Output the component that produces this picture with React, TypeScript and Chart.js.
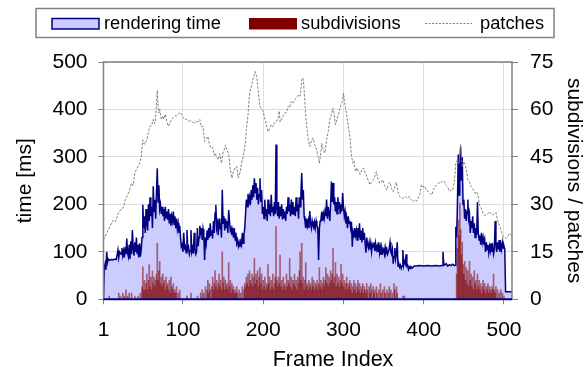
import React, { useEffect, useRef } from "react";
import { Chart, registerables } from "chart.js";

Chart.register(...registerables);

// rendering time [ms] per frame: [frame, ms]
const renderingTime: [number, number][] = [
  [1, 0], [2, 68], [3, 75], [4, 62], [5, 100], [6, 78], [7, 85], [9, 82], [11, 84], [13, 83], [15, 85], [17, 84],
  [19, 104], [20, 88], [21, 100], [23, 95], [24, 108], [25, 92], [26, 102], [27, 88], [28, 110], [29, 95], [30, 128],
  [31, 98], [32, 90], [33, 115], [34, 85], [35, 122], [36, 95], [37, 146], [38, 108], [39, 92], [40, 120], [41, 100],
  [42, 130], [43, 95], [44, 115], [45, 88], [46, 118], [47, 90], [48, 105], [49, 130], [50, 199], [51, 150], [52, 175],
  [53, 140], [54, 190], [55, 160], [56, 145], [57, 200], [58, 165], [59, 215], [60, 175], [61, 195], [62, 150], [63, 238],
  [64, 185], [65, 210], [66, 170], [67, 225], [68, 276], [69, 205], [70, 240], [71, 190], [72, 200], [73, 180], [74, 195],
  [75, 175], [76, 190], [77, 165], [78, 195], [79, 172], [80, 185], [81, 168], [82, 190], [83, 160], [84, 180], [85, 155],
  [86, 175], [87, 165], [88, 185], [89, 158], [90, 175], [91, 150], [92, 170], [93, 148], [94, 160], [95, 140], [96, 155],
  [97, 130], [98, 111], [99, 115], [100, 100], [101, 140], [102, 108], [103, 112], [104, 98], [105, 146], [106, 105],
  [107, 110], [108, 95], [109, 102], [110, 146], [111, 100], [112, 108], [113, 96], [114, 140], [115, 105], [116, 95],
  [117, 100], [118, 150], [119, 112], [120, 130], [121, 155], [122, 135], [123, 150], [124, 125], [125, 148], [126, 135],
  [127, 83], [128, 130], [129, 118], [130, 145], [131, 125], [132, 150], [133, 130], [134, 160], [135, 135], [136, 145],
  [137, 128], [138, 165], [139, 140], [140, 182], [141, 199], [142, 150], [143, 160], [144, 135], [145, 170], [146, 148],
  [147, 160], [148, 130], [149, 231], [150, 160], [151, 175], [152, 145], [153, 170], [154, 150], [155, 165], [156, 140],
  [157, 188], [158, 165], [159, 145], [160, 150], [161, 135], [162, 145], [163, 130], [164, 150], [165, 125], [166, 140],
  [167, 118], [168, 125], [169, 112], [170, 120], [171, 110], [172, 122], [173, 115], [174, 140], [175, 118], [176, 135],
  [177, 150], [178, 180], [179, 210], [180, 195], [181, 222], [182, 205], [183, 215], [184, 198], [185, 230], [186, 210],
  [187, 240], [188, 215], [189, 255], [190, 225], [191, 245], [192, 210], [193, 235], [194, 200], [195, 220], [196, 255],
  [197, 205], [198, 230], [199, 180], [200, 195], [201, 170], [202, 210], [203, 175], [204, 190], [205, 165], [206, 210],
  [207, 180], [208, 200], [209, 175], [210, 220], [211, 185], [212, 195], [213, 175], [214, 205], [215, 180], [216, 326],
  [217, 190], [218, 175], [219, 205], [220, 170], [221, 195], [222, 175], [223, 200], [224, 168], [225, 190], [226, 172],
  [227, 185], [228, 165], [229, 195], [230, 180], [231, 215], [232, 185], [233, 200], [234, 175], [235, 210], [236, 180],
  [237, 205], [238, 178], [239, 195], [240, 175], [241, 215], [242, 185], [243, 200], [244, 170], [245, 215], [246, 195],
  [247, 225], [248, 266], [249, 210], [250, 230], [251, 175], [252, 165], [253, 150], [254, 170], [255, 155], [256, 165],
  [257, 150], [258, 186], [259, 160], [260, 150], [261, 165], [262, 155], [263, 150], [264, 162], [265, 150], [266, 165],
  [267, 155], [268, 150], [269, 83], [270, 150], [271, 165], [272, 170], [273, 185], [274, 165], [275, 180], [276, 170],
  [277, 185], [278, 175], [279, 210], [280, 170], [281, 195], [282, 180], [283, 165], [284, 200], [285, 248], [286, 205],
  [287, 245], [288, 200], [289, 215], [290, 185], [291, 205], [292, 180], [293, 215], [294, 190], [295, 205], [296, 180],
  [297, 200], [298, 185], [299, 224], [300, 195], [301, 175], [302, 185], [303, 160], [304, 170], [305, 150], [306, 175],
  [307, 160], [308, 165], [309, 150], [310, 163], [311, 111], [312, 140], [313, 130], [314, 150], [315, 135], [316, 145],
  [317, 125], [318, 150], [319, 130], [320, 160], [321, 125], [322, 145], [323, 120], [324, 150], [325, 125], [326, 140],
  [327, 118], [328, 98], [329, 130], [330, 115], [331, 108], [332, 120], [333, 105], [334, 118], [335, 100], [336, 115],
  [337, 110], [338, 120], [339, 102], [340, 118], [341, 105], [342, 112], [343, 100], [344, 120], [345, 98], [346, 110],
  [347, 95], [348, 108], [349, 100], [350, 105], [351, 95], [352, 110], [353, 98], [354, 105], [355, 95], [356, 100],
  [357, 108], [358, 120], [359, 100], [360, 95], [361, 105], [362, 75], [363, 90], [364, 108], [365, 85], [366, 95],
  [367, 120], [368, 70], [369, 75], [370, 68], [371, 72], [372, 65], [373, 70], [374, 104], [375, 72], [376, 80],
  [377, 75], [378, 95], [379, 70], [380, 72], [381, 63], [382, 68], [383, 65], [384, 69], [386, 66], [388, 70],
  [390, 70], [395, 71], [400, 70], [405, 71], [410, 70], [415, 71], [420, 70], [423, 71], [424, 100], [425, 75],
  [426, 72], [428, 75], [430, 70], [432, 73], [434, 71], [436, 74], [438, 71], [439, 72], [440, 153], [441, 130],
  [442, 200], [443, 305], [444, 220], [445, 275], [446, 322], [447, 250], [448, 300], [449, 200], [450, 210], [451, 170],
  [452, 190], [453, 165], [454, 185], [455, 210], [456, 170], [457, 180], [458, 140], [459, 165], [460, 150], [461, 175],
  [462, 140], [463, 160], [464, 130], [465, 150], [466, 135], [467, 205], [468, 140], [469, 125], [470, 135], [471, 115],
  [472, 140], [473, 120], [474, 130], [475, 115], [476, 125], [477, 100], [478, 120], [479, 105], [480, 115], [481, 98],
  [482, 112], [483, 102], [484, 118], [485, 100], [486, 110], [487, 95], [488, 105], [489, 165], [490, 115], [491, 100],
  [492, 120], [493, 105], [494, 125], [495, 100], [496, 115], [497, 105], [498, 120], [499, 108], [500, 112], [501, 105],
  [502, 16], [510, 16],
];

// subdivisions per frame: [frame, count]
const subdivisions: [number, number][] = [
  [8, 1], [20, 2], [22, 1], [25, 2], [27, 1], [29, 3], [31, 1], [33, 2], [36, 2], [40, 1], [44, 1], [47, 2], [49, 4],
  [50, 10.3], [51, 3], [52, 6], [53, 3], [54, 5], [55, 8], [56, 3], [57, 6], [58, 11], [59, 4], [60, 7], [61, 3], [62, 9],
  [63, 5], [64, 7], [65, 4], [66, 6], [67, 8], [68, 17.7], [69, 6], [70, 9], [71, 12], [72, 5], [73, 7], [74, 4], [75, 8],
  [76, 5], [77, 6], [78, 3], [79, 7], [80, 4], [81, 5], [82, 3], [83, 6], [84, 2], [85, 7], [86, 4], [87, 3], [88, 5],
  [89, 2], [90, 3], [91, 2], [92, 4], [94, 2], [96, 3], [105, 1], [110, 2], [118, 1], [122, 2], [124, 3], [126, 2],
  [128, 4], [130, 3], [131, 6], [132, 2], [133, 5], [134, 3], [136, 4], [137, 7], [138, 3], [139, 5], [140, 9], [141, 4],
  [142, 6], [143, 3], [144, 5], [145, 8], [146, 4], [147, 6], [148, 3], [149, 15], [150, 5], [151, 7], [152, 3], [153, 6],
  [154, 4], [155, 5], [156, 3], [157, 11.6], [158, 4], [159, 6], [160, 2], [161, 5], [162, 3], [163, 4], [164, 2],
  [165, 3], [166, 2], [167, 4], [168, 2], [170, 3], [172, 2], [174, 4], [176, 3], [177, 5], [178, 4], [179, 7], [180, 5],
  [181, 8], [182, 4], [183, 9], [184, 6], [185, 5], [186, 8], [187, 4], [188, 7], [189, 12.9], [190, 5], [191, 8],
  [192, 6], [193, 9], [194, 4], [195, 7], [196, 10], [197, 5], [198, 8], [199, 3], [200, 6], [201, 4], [202, 7], [203, 3],
  [204, 5], [205, 4], [206, 11], [207, 5], [208, 7], [209, 3], [210, 6], [211, 4], [212, 8], [213, 3], [214, 5], [215, 7],
  [216, 23], [217, 6], [218, 4], [219, 7], [220, 5], [221, 14], [222, 4], [223, 6], [224, 3], [225, 7], [226, 4],
  [227, 5], [228, 3], [229, 8], [230, 4], [231, 6], [232, 5], [233, 12.9], [234, 4], [235, 7], [236, 3], [237, 6],
  [238, 5], [239, 8], [240, 4], [241, 6], [242, 3], [243, 7], [244, 5], [245, 9], [246, 15], [247, 6], [248, 17.7],
  [249, 5], [250, 7], [251, 3], [252, 6], [253, 11.6], [254, 4], [255, 5], [256, 3], [257, 6], [258, 4], [259, 5],
  [260, 3], [261, 7], [262, 4], [263, 6], [264, 3], [265, 5], [266, 4], [267, 6], [268, 3], [269, 5], [270, 10], [271, 4],
  [272, 6], [273, 3], [274, 5], [275, 7], [276, 4], [277, 6], [278, 10], [279, 5], [280, 8], [281, 4], [282, 7], [283, 5],
  [284, 9], [285, 6], [286, 8], [287, 16], [288, 5], [289, 7], [290, 11.6], [291, 4], [292, 8], [293, 5], [294, 7],
  [295, 4], [296, 6], [297, 11], [298, 5], [299, 8], [300, 4], [301, 6], [302, 3], [303, 5], [304, 7], [305, 3], [306, 5],
  [307, 4], [308, 6], [309, 3], [310, 5], [311, 2], [312, 4], [313, 6], [314, 3], [315, 5], [316, 2], [317, 4], [318, 6],
  [319, 3], [320, 5], [321, 2], [322, 4], [323, 3], [324, 5], [325, 2], [326, 4], [327, 3], [328, 2], [329, 5], [330, 3],
  [332, 4], [333, 2], [334, 5], [335, 3], [337, 4], [338, 2], [339, 3], [341, 4], [342, 2], [344, 3], [346, 5], [347, 2],
  [349, 3], [351, 4], [352, 2], [354, 3], [356, 2], [357, 4], [359, 3], [361, 2], [363, 5], [364, 3], [366, 4], [367, 2],
  [374, 1], [376, 1], [441, 8], [442, 16], [443, 25], [444, 20], [445, 30.4], [446, 22], [447, 14], [448, 18], [449, 11],
  [450, 8], [451, 12], [452, 6], [453, 10], [454, 5], [455, 9], [456, 4], [457, 12], [458, 6], [459, 8], [460, 4],
  [461, 7], [462, 3], [463, 9], [464, 5], [465, 6], [466, 3], [467, 8], [468, 4], [469, 6], [470, 3], [471, 5], [472, 2],
  [473, 4], [474, 6], [475, 3], [476, 5], [477, 2], [478, 4], [479, 3], [480, 5], [481, 2], [482, 4], [483, 3], [484, 2],
  [485, 4], [486, 3], [487, 8], [488, 3], [489, 2], [490, 4], [492, 3], [494, 2], [496, 3], [498, 2], [500, 1],
];

// patches per frame: [frame, count]
const patches: [number, number][] = [
  [1, 18.8], [5, 21], [9, 23], [13, 25], [16, 24.5], [19, 27], [23, 28.6], [26, 29], [28, 31.4], [32, 33.5], [34, 35],
  [36, 36.7], [38, 36], [40, 39.9], [42, 41], [44, 42], [46, 43], [48, 45], [50, 50.4], [52, 49], [55, 50.4], [57, 53],
  [59, 54.7], [61, 55], [63, 56.8], [65, 55.5], [66, 58], [68, 66], [69, 61], [70, 58.9], [71, 60], [73, 56.8], [75, 58],
  [76, 57], [78, 58.5], [80, 56], [82, 54.7], [84, 56], [86, 56.8], [88, 57.5], [90, 58], [92, 57.9], [94, 58.5],
  [96, 59.1], [98, 58.5], [100, 57.5], [102, 56.8], [104, 57], [106, 56.5], [108, 56.3], [110, 56.5], [112, 56],
  [114, 55.5], [115, 55.8], [117, 56.5], [119, 56], [121, 56.8], [122, 55.5], [123, 54.5], [125, 54.7], [127, 49.9],
  [129, 50.5], [131, 51.5], [133, 49], [135, 47.8], [137, 48], [139, 45.5], [140, 46.2], [142, 45], [144, 44.1], [146, 46],
  [148, 43], [150, 46.5], [151, 47], [153, 48.8], [155, 47], [157, 46], [159, 41], [161, 38.3], [163, 40.5], [165, 41.5],
  [167, 42], [169, 38.3], [171, 40], [173, 43], [174, 44], [176, 46.2], [178, 50], [179, 53.6], [181, 58], [183, 65.2],
  [185, 67], [187, 69.4], [189, 71], [190, 72], [191, 71], [192, 70.5], [194, 65.2], [196, 61], [198, 60], [200, 59.4],
  [202, 57], [204, 55.2], [206, 53], [208, 54], [210, 55.2], [212, 54.5], [214, 55.8], [216, 56], [218, 57], [219, 57.8],
  [220, 59.5], [221, 56], [223, 57], [225, 58], [227, 58.9], [229, 59], [231, 61], [233, 60.5], [235, 62.6], [237, 62],
  [239, 63], [241, 63.5], [243, 64], [244, 64.7], [246, 64.2], [247, 66], [248, 69.4], [249, 70], [250, 69.4], [251, 66],
  [252, 62], [253, 57.8], [255, 53], [256, 50.4], [258, 48.3], [260, 50], [262, 51], [264, 49], [266, 47.8], [268, 45.5],
  [270, 43], [272, 47], [273, 49.3], [275, 47], [277, 46.2], [279, 50.5], [281, 53], [283, 56.8], [285, 58.5], [287, 60.5],
  [288, 59], [289, 57], [290, 55.2], [292, 57], [294, 58.5], [295, 59.9], [297, 61.5], [299, 63], [300, 65.2], [301, 63],
  [302, 61.5], [304, 58], [306, 54.7], [308, 51.5], [310, 45.2], [312, 43], [313, 43.8], [315, 40.4], [317, 41.5],
  [319, 40], [321, 39.5], [323, 41], [325, 41.5], [327, 40], [329, 38.8], [331, 37.5], [333, 36.2], [335, 37], [337, 37.8],
  [339, 39], [341, 40.4], [343, 38], [345, 36.7], [347, 37], [349, 37.8], [351, 36], [354, 34.6], [356, 36.5], [358, 37],
  [360, 35], [362, 34], [364, 35.5], [366, 37], [368, 34], [370, 32.5], [372, 32], [374, 31.9], [377, 32.5], [379, 31.9],
  [382, 32.5], [384, 31.5], [387, 30.9], [389, 31.5], [391, 31], [393, 32], [395, 33], [397, 36.2], [399, 35.5],
  [401, 35.8], [403, 34.5], [406, 34.1], [408, 33.5], [410, 33], [412, 34.5], [414, 35.7], [416, 36], [418, 36.5],
  [420, 37.2], [422, 37], [424, 37.5], [426, 37.2], [428, 36], [430, 35.5], [432, 34.1], [434, 34.5], [436, 34.5],
  [438, 37], [440, 43], [442, 44], [444, 43], [445, 46], [446, 48.9], [447, 45], [448, 42], [450, 43.5], [451, 43],
  [453, 41], [455, 37.8], [457, 37], [459, 35.7], [461, 35], [464, 33.5], [466, 34], [468, 32.5], [470, 29.3], [472, 28.5],
  [474, 27.2], [476, 26.5], [478, 26.8], [480, 27], [482, 27.7], [484, 27], [486, 26.6], [488, 27], [490, 27.5], [492, 25],
  [495, 23], [497, 21], [499, 19.8], [501, 19.5], [503, 19.3], [505, 20], [507, 20.9], [509, 20.3], [510, 20.5],
];

const xTickValues = [1, 100, 200, 300, 400, 500];
const legendLabels = ["rendering time", "subdivisions", "patches"];
const xTitle = "Frame Index";
const yTitle = "time [ms]";
const y2Title = "subdivisions / patches";

const FONT = "'Liberation Sans', Arial, sans-serif";
const NAVY = "#000080";
const FILL = "#ccccff";
const DARKRED = "#800000";
const GRAY = "#808080";

const framePlugin = {
  id: "framePlugin",
  afterDraw(chart: any) {
    const { ctx, chartArea: a } = chart;
    ctx.save();
    // plot frame
    ctx.strokeStyle = GRAY;
    ctx.lineWidth = 1.5;
    ctx.beginPath();
    ctx.moveTo(a.left, a.bottom);
    ctx.lineTo(a.left, a.top);
    ctx.lineTo(a.right, a.top);
    ctx.lineTo(a.right, a.bottom);
    ctx.stroke();
    ctx.strokeStyle = NAVY;
    ctx.lineWidth = 2;
    ctx.beginPath();
    ctx.moveTo(a.left, a.bottom);
    ctx.lineTo(a.right, a.bottom);
    ctx.stroke();

    // x title
    ctx.fillStyle = "#000";
    ctx.font = `21.5px ${FONT}`;
    ctx.textAlign = "center";
    ctx.textBaseline = "alphabetic";
    ctx.fillText(xTitle, 333, 366);

    // legend
    ctx.strokeStyle = GRAY;
    ctx.lineWidth = 1.5;
    ctx.strokeRect(36, 8.5, 518, 29);
    ctx.font = `18.3px ${FONT}`;
    ctx.textAlign = "left";
    ctx.fillStyle = FILL;
    ctx.fillRect(52, 18.5, 47, 10.5);
    ctx.strokeStyle = NAVY;
    ctx.lineWidth = 1.5;
    ctx.strokeRect(52, 18.5, 47, 10.5);
    ctx.fillStyle = "#000";
    ctx.fillText(legendLabels[0], 104, 28.5);
    ctx.fillStyle = DARKRED;
    ctx.fillRect(249, 18, 48, 11.5);
    ctx.fillStyle = "#000";
    ctx.fillText(legendLabels[1], 301, 28.5);
    ctx.strokeStyle = GRAY;
    ctx.lineWidth = 1;
    ctx.setLineDash([2, 1.5]);
    ctx.beginPath();
    ctx.moveTo(425, 23.5);
    ctx.lineTo(472, 23.5);
    ctx.stroke();
    ctx.setLineDash([]);
    ctx.fillText(legendLabels[2], 480, 28.5);
    ctx.restore();
  },
};

export default function App() {
  const ref = useRef<HTMLCanvasElement>(null);
  useEffect(() => {
    document.body.style.margin = "0";
    Chart.defaults.font.family = FONT;
    const chart = new Chart(ref.current!, {
      data: {
        datasets: [
          {
            type: "line",
            label: legendLabels[2],
            data: patches.map(([x, y]) => ({ x, y })),
            yAxisID: "y2",
            borderColor: GRAY,
            borderWidth: 1,
            borderDash: [2.5, 1.5],
            pointRadius: 0,
            fill: false,
            tension: 0,
            order: 0,
          },
          {
            type: "line",
            label: legendLabels[0],
            data: renderingTime.map(([x, y]) => ({ x, y })),
            yAxisID: "y",
            borderColor: NAVY,
            borderWidth: 1.5,
            backgroundColor: FILL,
            pointRadius: 0,
            fill: "origin",
            tension: 0,
            order: 1,
          },
          {
            type: "bar",
            label: legendLabels[1],
            data: subdivisions.map(([x, y]) => ({ x, y })),
            yAxisID: "y2",
            backgroundColor: "rgba(128,0,0,0.55)",
            borderWidth: 0,
            barThickness: 1,
            order: 2,
          },
        ],
      } as any,
      options: {
        animation: false,
        responsive: true,
        maintainAspectRatio: false,
        layout: { padding: { top: 62, left: 0, right: 0, bottom: 0 } },
        plugins: {
          legend: { display: false },
          tooltip: { enabled: false },
          filler: { drawTime: "beforeDatasetsDraw" },
        } as any,
        scales: {
          x: {
            type: "linear",
            offset: false,
            min: 1,
            max: 510,
            afterBuildTicks: (s: any) => {
              s.ticks = xTickValues.map((v) => ({ value: v }));
            },
            afterFit: (s: any) => {
              s.height = 67.7;
            },
            ticks: {
              color: "#000",
              font: { size: 21 },
              padding: 13,
              maxRotation: 0,
              autoSkip: false,
              callback: (v: any) => String(v),
            },
            grid: { offset: false, color: "#dddddd", lineWidth: 1, tickColor: GRAY, tickLength: 5 },
            border: { display: false },
          },
          y: {
            type: "linear",
            position: "left",
            min: 0,
            max: 500,
            afterFit: (s: any) => {
              s.width = 103.5;
            },
            ticks: { stepSize: 100, color: "#000", font: { size: 21 }, padding: 11 },
            grid: { color: "#dddddd", lineWidth: 1, tickColor: GRAY, tickLength: 5 },
            border: { display: false },
            title: { display: true, text: yTitle, color: "#000", font: { size: 21 }, padding: { top: 13, bottom: 0 } },
          },
          y2: {
            type: "linear",
            position: "right",
            min: 0,
            max: 75,
            afterFit: (s: any) => {
              s.width = 74;
            },
            ticks: { stepSize: 15, color: "#000", font: { size: 21 }, padding: 12 },
            grid: { drawOnChartArea: false, tickColor: GRAY, tickLength: 6 },
            border: { display: false },
            title: { display: true, text: y2Title, color: "#000", font: { size: 21 }, padding: { top: 0, bottom: 0 } },
          },
        },
      } as any,
      plugins: [framePlugin],
    });
    return () => chart.destroy();
  }, []);
  return (
    <div style={{ width: 586, height: 367, position: "relative" }}>
      <canvas ref={ref} />
    </div>
  );
}
